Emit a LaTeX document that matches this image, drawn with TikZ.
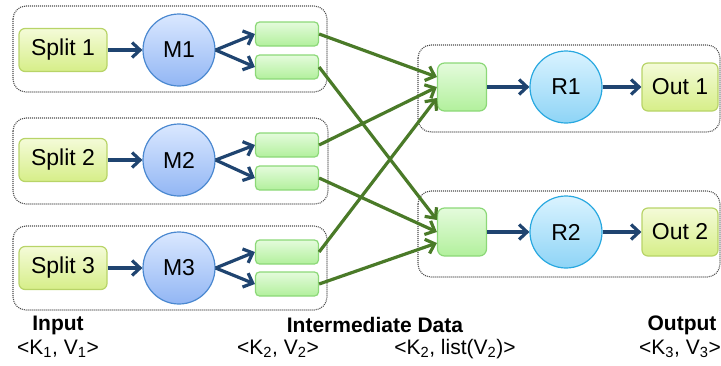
\documentclass[tikz,border=0pt]{standalone}
\usepackage{fontspec}
\setmainfont{Liberation Sans}
\usetikzlibrary{arrows.meta}
\definecolor{splitline}{HTML}{B8D468}
\definecolor{splittop}{HTML}{F4FBD8}
\definecolor{splitbot}{HTML}{D6EE88}
\definecolor{midline}{HTML}{8CD878}
\definecolor{midtop}{HTML}{E4FBDC}
\definecolor{midbot}{HTML}{B2F09C}
\definecolor{mapline}{HTML}{4A88D0}
\definecolor{maptop}{HTML}{DAE8FF}
\definecolor{mapbot}{HTML}{92B6F4}
\definecolor{redline}{HTML}{28A8E0}
\definecolor{redtop}{HTML}{DAF3FF}
\definecolor{redbot}{HTML}{8ED4F6}
\definecolor{navy}{HTML}{1F4470}
\definecolor{darkgreen}{HTML}{4A7A28}
\tikzset{
  group/.style={draw=black!70, line width=1.1pt, dash pattern=on 1pt off 1pt, rounded corners=13pt},
  splitbox/.style={draw=splitline, line width=1.2pt, rounded corners=6pt, top color=splittop, bottom color=splitbot,
    minimum width=88pt, minimum height=43pt, inner sep=0pt, font=\fontsize{23}{25}\selectfont},
  midbox/.style={draw=midline, line width=1.2pt, rounded corners=4pt, top color=midtop, bottom color=midbot,
    minimum width=63pt, minimum height=24pt, inner sep=0pt},
  redbox/.style={midbox, rounded corners=7pt, minimum width=49pt, minimum height=48pt},
  mapper/.style={circle, draw=mapline, line width=1.2pt, top color=maptop, bottom color=mapbot,
    minimum size=72pt, inner sep=0pt, font=\fontsize{23}{25}\selectfont},
  reducer/.style={mapper, draw=redline, top color=redtop, bottom color=redbot},
  blue arrow/.style={draw=navy, line width=3.2pt, -{Straight Barb[length=8pt,width=15pt,line width=3.2pt]}},
  green arrow/.style={draw=darkgreen, line width=3.2pt, -{Straight Barb[length=8pt,width=15pt,line width=3.2pt]}},
  title/.style={font=\bfseries\fontsize{21}{23}\selectfont},
  pair/.style={font=\fontsize{21}{23}\selectfont}
}
\begin{document}
\begin{tikzpicture}[x=1pt,y=-1pt]
  \useasboundingbox (0,0) rectangle (721,365);
  % dotted groups
  \draw[group] (13,6) rectangle (327,92);
  \draw[group] (13,118) rectangle (328,204);
  \draw[group] (13,226) rectangle (327,310);
  \draw[group] (418,45) rectangle (720,132);
  \draw[group] (418,191) rectangle (720,277);

  % map side
  \node[splitbox] (s1) at (63,50) {Split 1};
  \node[splitbox] (s2) at (63,160) {Split 2};
  \node[splitbox] (s3) at (63,268) {Split 3};
  \node[mapper] (m1) at (179,50) {M1};
  \node[mapper] (m2) at (179,160) {M2};
  \node[mapper] (m3) at (179,268) {M3};
  \node[midbox] (i1a) at (287,34) {};
  \node[midbox] (i1b) at (287,67) {};
  \node[midbox] (i2a) at (287,145) {};
  \node[midbox] (i2b) at (287,178) {};
  \node[midbox] (i3a) at (287,252) {};
  \node[midbox] (i3b) at (287,284) {};

  % reduce side
  \node[redbox] (g1) at (462,87) {};
  \node[redbox] (g2) at (462,232) {};
  \node[reducer] (r1) at (566,87) {R1};
  \node[reducer] (r2) at (566,232) {R2};
  \node[splitbox, minimum width=76pt, minimum height=48pt] (o1) at (680,87) {Out 1};
  \node[splitbox, minimum width=76pt, minimum height=48pt] (o2) at (680,232) {Out 2};

  \draw[blue arrow] (s1) -- (m1);
  \draw[blue arrow] (s2) -- (m2);
  \draw[blue arrow] (s3) -- (m3);
  \draw[blue arrow] (m1.east) -- (i1a.west);
  \draw[blue arrow] (m1.east) -- (i1b.west);
  \draw[blue arrow] (m2.east) -- (i2a.west);
  \draw[blue arrow] (m2.east) -- (i2b.west);
  \draw[blue arrow] (m3.east) -- (i3a.west);
  \draw[blue arrow] (m3.east) -- (i3b.west);
  \draw[blue arrow] (g1) -- (r1);
  \draw[blue arrow] (g2) -- (r2);
  \draw[blue arrow] (r1) -- (o1);
  \draw[blue arrow] (r2) -- (o2);

  % shuffle
  \draw[green arrow] (i1a.east) -- ([yshift=10pt]g1.west);
  \draw[green arrow] (i2a.east) -- (g1.west);
  \draw[green arrow] (i3a.east) -- ([yshift=-11pt]g1.west);
  \draw[green arrow] (i1b.east) -- ([yshift=12pt]g2.west);
  \draw[green arrow] (i2b.east) -- (g2.west);
  \draw[green arrow] (i3b.east) -- ([yshift=-11pt]g2.west);

  % captions
  \node[title] (tin) at (58,325) {Input};
  \node[pair] (kin) at (58,349) {<K\textsubscript{1}, V\textsubscript{1}>};
  \node[title] (tmid) at (375,325) {Intermediate Data};
  \node[pair] (kmid) at (278,349) {<K\textsubscript{2}, V\textsubscript{2}>};
  \node[pair] (klist) at (455,349) {<K\textsubscript{2}, list(V\textsubscript{2})>};
  \node[title] (tout) at (682,325) {Output};
  \node[pair] (kout) at (680,349) {<K\textsubscript{3}, V\textsubscript{3}>};
\end{tikzpicture}
\end{document}
